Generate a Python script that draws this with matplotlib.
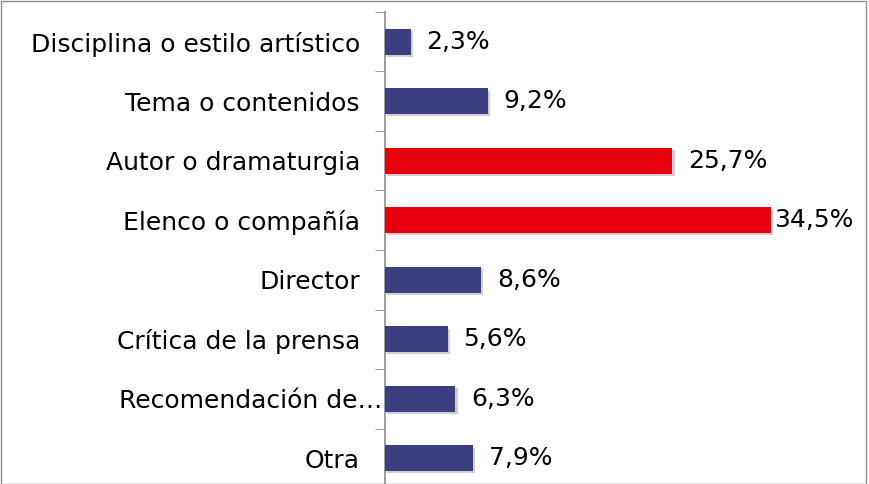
import matplotlib
matplotlib.use('Agg')
import numpy as np
from matplotlib import pyplot as plt
from matplotlib import patheffects as pe
from matplotlib import transforms
from matplotlib.patches import Rectangle

plt.rcParams['font.family'] = ['DejaVu Sans']

categories = ['Disciplina o estilo artístico', 'Tema o contenidos',
              'Autor o dramaturgia', 'Elenco o compañía', 'Director',
              'Crítica de la prensa', 'Recomendación de…', 'Otra']
values = [2.3, 9.2, 25.7, 34.5, 8.6, 5.6, 6.3, 7.9]
highlight = [False, False, True, True, False, False, False, False]

navy = '#3b3f7f'
red = '#e6000e'

fig = plt.figure(figsize=(8.7, 4.84), dpi=100)
W, H = 870, 484
ax = fig.add_axes([385 / W, -4 / H, (866 - 385) / W, 476 / H])

y = np.arange(len(categories))
colors = [red if h else navy for h in highlight]
bars = ax.barh(y, values, height=0.43, color=colors, zorder=3)
for b in bars:
    b.set_path_effects([pe.SimplePatchShadow(offset=(1.5, -1.5), alpha=0.2),
                        pe.Normal()])

vmax = max(values)
for yi, v in zip(y, values):
    pad = 0.3 if v == vmax else 1.4
    ax.text(v + pad, yi, ('%.1f%%' % v).replace('.', ','), va='center',
            ha='left', fontsize=18, color='black')

ax.set_xlim(0, 43)
ax.set_ylim(len(categories) - 0.5, -0.5)
ax.set_yticks(y)
ax.set_yticklabels(categories, fontsize=18, color='black')
ax.set_yticks(np.arange(len(categories) + 1) - 0.5, minor=True)
ax.tick_params(axis='y', which='major', length=0, pad=18)
ax.tick_params(axis='y', which='minor', length=7, color='#8c8c8c',
               direction='out')
ax.set_xticks([])
for s in ['top', 'right', 'bottom']:
    ax.spines[s].set_visible(False)
ax.spines['left'].set_color('#8c8c8c')
ax.spines['left'].set_linewidth(1.2)

# the truncated label sits further right, as in the original
lab = ax.get_yticklabels()[categories.index('Recomendación de…')]
lab.set_transform(lab.get_transform() +
                  transforms.ScaledTranslation(16 / 72, 0, fig.dpi_scale_trans))

fig.patches.append(Rectangle((0.5 / W, 0), 865.5 / W, 1 - 0.5 / H,
                             transform=fig.transFigure, fill=False,
                             edgecolor='#8c8c8c', linewidth=1))

fig.savefig('out.png', dpi=100)
